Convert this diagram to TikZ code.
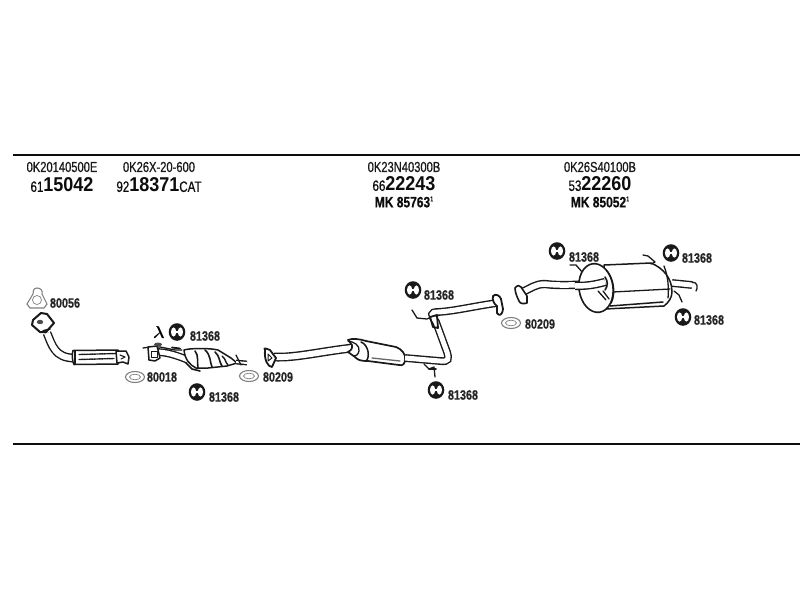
\documentclass[tikz,border=0pt]{standalone}
\usepackage{fontspec}
\setmainfont{Liberation Sans}
\newfontfamily\condf[FakeStretch=.77,FakeBold=.6]{Liberation Sans}
\newfontfamily\condb[FakeStretch=.9]{Liberation Sans}
\newfontfamily\lblf[FakeStretch=.8,FakeBold=.5]{Liberation Sans}
\newcommand{\num}[2]{{\condf\fontsize{15}{15}\selectfont #1}{\condb\fontsize{20}{20}\selectfont\bfseries #2}}
\newcommand{\mk}[1]{{\lblf\fontsize{15}{15}\selectfont\bfseries MK #1}\raisebox{6pt}{\condf\fontsize{7}{7}\selectfont 1}}
\tikzset{
  rule/.style={line width=1.7pt,black!95},
  code/.style={font=\condf\fontsize{14.5}{14.5}\selectfont,inner sep=0pt,text=black!90},
  bignum/.style={inner sep=0pt,text=black!95},
  lbl/.style={font=\lblf\fontsize{13.5}{13.5}\selectfont\bfseries,inner sep=0pt,text=black!85},
  tube/.style={draw=black!90,line width=1.4pt,double=white,double distance=#1,line cap=butt},
  tube/.default=4.5pt,
  line/.style={draw=black!90,line width=1.3pt,line join=round,line cap=round},
  body/.style={draw=black!90,fill=white,line width=1.5pt,line join=round},
  gasket/.style={draw=black!50,fill=white,line width=1.1pt},
  hanger/.pic={
    \fill[black!90] (0,0) ellipse (8.3 and 8.8);
    \fill[white] (-3.4,0) ellipse (2.6 and 4.6);
    \fill[white] (3.4,0) ellipse (2.6 and 4.6);
    \fill[white,rotate=8] (-3,-1) rectangle (3,1);
  },
  oval gasket/.pic={
    \draw[gasket] (0,0) ellipse (9.5 and 5.5);
    \draw[gasket,line width=.7pt] (0,0) ellipse (5.5 and 2.8);
  }
}
\begin{document}
\begin{tikzpicture}[x=1pt,y=-1pt]
\useasboundingbox (0,0) rectangle (800,600);

% rules
\coordinate (tl) at (13,155); \coordinate (tr) at (800,155);
\coordinate (bl) at (13,444); \coordinate (br) at (800,444);
\draw[rule] (tl) -- (tr);
\draw[rule] (bl) -- (br);

% header text
\node[code] (c1) at (62,167) {0K20140500E};
\node[bignum] (n1) at (62,185) {\num{61}{15042}};
\node[code] (c2) at (159,167) {0K26X-20-600};
\node[bignum] (n2) at (159,185) {\num{92}{18371}{\condf\fontsize{15}{15}\selectfont CAT}};
\node[code] (c3) at (404,167) {0K23N40300B};
\node[bignum] (n3) at (404,184) {\num{66}{22243}};
\node[bignum] (m3) at (404,202) {\mk{85763}};
\node[code] (c4) at (600,167) {0K26S40100B};
\node[bignum] (n4) at (600,184) {\num{53}{22260}};
\node[bignum] (m4) at (600,202) {\mk{85052}};

% ---- front pipe
\draw[gasket] (37,288) .. controls (33,288) and (33,292) .. (33,294) -- (27,304) -- (30,308)
   -- (44,308) -- (47,304) -- (42,294) .. controls (43,291) and (41,288) .. (37,288) -- cycle;
\draw[gasket,line width=.7pt] (37,300) circle (4.5);
\draw[tube=6pt] (47,333) .. controls (52,345) and (55,358) .. (74,358);
\draw[body,line width=2pt] (33,320) -- (41,313) -- (47,314) -- (54,323) -- (46,332) -- (40,332) -- (32,325) -- cycle;
\fill[black!70] (40,322) ellipse (3.2 and 2.2);
\draw[line,line width=1.8pt] (43,331) -- (50,329);
\draw[body] (73,350.5) -- (118,350) .. controls (120,351) and (120,363) .. (118,364) -- (74,364.5) .. controls (72,362) and (72,353) .. (73,350.5) -- cycle;
\draw[line,line width=1.8pt] (75,351) -- (75,364);
\draw[line,line width=1.4pt,dash pattern=on 1.6pt off .9pt] (79,354.5) -- (116,353.5);
\draw[line,line width=1.4pt,dash pattern=on 1.6pt off .9pt] (79,359.5) -- (114,358.5);
\draw[body] (116,351) -- (126,351) -- (129,357) -- (128,364) -- (123,362) -- (117,363) -- cycle;
\draw[line,line width=1.1pt] (120,355) -- (125,357) -- (121,359);

% ---- catalytic converter
\draw[tube=5pt] (156,352) .. controls (166,352) and (176,355) .. (188,360);
\draw[line] (143,348) -- (150,347) -- (160,347) -- (175,350) -- (182,350);
\draw[line,line width=1.6pt] (186,363) -- (192,369) -- (200,371);
\draw[body] (148,347) -- (157,346) -- (160,358) -- (155,361) -- (149,360) -- cycle;
\fill[black!70] (158,344.5) ellipse (4 and 2);
\draw[line,line width=.9pt] (151,351) -- (157,351) -- (157,357) -- (151,357) -- cycle;
\draw[body] (184,350) .. controls (190,348) and (210,348) .. (218,350)
   -- (231,358) -- (237,363) -- (227,366) -- (208,368) -- (196,368) .. controls (190,365) and (185,360) .. (184,350) -- cycle;
\draw[line,line width=1.6pt] (195,351) .. controls (199,355) and (197,364) .. (198,368);
\draw[line,line width=1.6pt] (205,350) .. controls (211,355) and (210,363) .. (212,367);
\draw[line,line width=1.6pt] (215,352) .. controls (220,356) and (219,362) .. (222,366);
\draw[line,line width=1.4pt] (222,356) .. controls (226,359) and (225,362) .. (228,365);
\draw[line,line width=1.8pt] (172,347.5) -- (180,348.5);
\draw[tube=2pt] (236,362) -- (247,363);
\draw[line] (236,355) -- (241,365);

% ---- centre pipe
\draw[tube=6pt] (274,357) .. controls (295,358) and (318,352) .. (352,348);
\draw[body,line width=1.8pt] (265,350) .. controls (263,347) and (267,349) .. (270,350) -- (276,358) -- (272,367) .. controls (268,367) and (264,360) .. (265,350) -- cycle;
\draw[line,line width=1pt] (268,354) -- (272,358) -- (268,361) -- cycle;
\draw[body,line width=1.7pt] (348,340) .. controls (352,338) and (360,339) .. (366,341) -- (396,347) .. controls (402,349) and (406,355) .. (405,359)
   .. controls (405,364) and (403,366) .. (399,365) -- (368,361) .. controls (360,361) and (358,360) .. (355,357) -- (348,352) .. controls (352,350) and (353,347) .. (352,345) -- cycle;
\draw[line,line width=1.5pt] (361,342) .. controls (369,345) and (370,358) .. (366,361);
\draw[line] (348,341) .. controls (354,342) and (360,345) .. (359,351) .. controls (358,355) and (356,356) .. (354,356);
\draw[line,draw=black!60] (372,358) -- (400,361);
\draw[tube=5pt] (405,358) -- (440,361) .. controls (449,362) and (449,359) .. (447,352) -- (436,322) .. controls (431,315) and (430,312) .. (438,312) .. controls (455,311) and (475,306) .. (497,303);
\draw[body,line width=1.8pt] (493,296) .. controls (496,293) and (500,296) .. (501,299) -- (503,309) .. controls (502,316) and (499,316) .. (497,313) -- (497,306) .. controls (494,304) and (492,300) .. (493,296) -- cycle;
\draw[line,line width=1.3pt] (412,310) -- (417,318) -- (427,319) -- (431,317);
\draw[line,line width=1.8pt] (430,317) -- (437,315) -- (438,328) -- (433,327) -- cycle;
\draw[line,line width=1.3pt] (424,364) -- (429,369) -- (434,367) -- (435,377);
\draw[line,line width=1.8pt] (429,369) -- (436,369);

% ---- rear pipe and silencer
\draw[tube=5.5pt] (520,293) .. controls (532,288) and (535,284) .. (545,284) .. controls (560,286) and (585,285) .. (606,282);
\draw[body,line width=1.6pt] (515,288) .. controls (517,285) and (520,285) .. (521,287) -- (527,296) -- (527,303) .. controls (524,304) and (520,304) .. (519,301) .. controls (517,297) and (515,292) .. (515,288) -- cycle;
\draw[line] (570,265) -- (576,265) -- (583,273) -- (587,275);
\draw[tube=5pt] (672,283) -- (692,285);
\draw[line] (692,282) .. controls (698,282) and (698,288) .. (696,291);
\draw[body,line width=1.5pt] (604,265) -- (651,263) .. controls (663,268) and (672,278) .. (672,292) .. controls (672,298) and (668,303) .. (664,306) -- (605,309) -- cycle;
\draw[line] (613,292) -- (670,289);
\draw[line,line width=1.5pt] (610,306) -- (663,302);
\draw[line] (664,266) .. controls (668,276) and (669,288) .. (668,298);
\draw[line] (643,255) -- (648,256) -- (655,262) -- (651,264);
\draw[line] (674,291) -- (679,295) -- (682,302);
\draw[body,line width=1.6pt,rotate around={8:(596,288)}] (596,288) ellipse (17 and 24.5);
\draw[line,rotate around={8:(596,288)}] (609,272) .. controls (615,282) and (615,296) .. (609,305);
\draw[tube=5.5pt] (575,286) .. controls (590,286) and (597,284) .. (605,282);
\draw[line,line width=1.6pt] (605,277) .. controls (608,281) and (608,286) .. (605,290);
\draw[line] (598,291) -- (606,300);
\draw[line] (603,291) -- (609,299);

% ---- hangers
\pic at (177,332) {hanger};
\pic at (197,392) {hanger};
\pic at (413,290) {hanger};
\pic at (436,390) {hanger};
\pic at (557,251) {hanger};
\pic at (671,253) {hanger};
\pic at (683,317) {hanger};

% ---- gaskets
\pic at (135,377) {oval gasket};
\pic at (249,376) {oval gasket};
\pic at (511,323) {oval gasket};

% ---- labels
\node[font=\fontsize{18}{18}\selectfont\boldmath,inner sep=0pt] (lam) at (159,332) {$\lambda$};
\node[lbl] (l1) at (65,303) {80056};
\node[lbl] (l2) at (205,336) {81368};
\node[lbl] (l3) at (162,377) {80018};
\node[lbl] (l4) at (224,397) {81368};
\node[lbl] (l5) at (278,377) {80209};
\node[lbl] (l6) at (439,295) {81368};
\node[lbl] (l7) at (463,395) {81368};
\node[lbl] (l8) at (540,324) {80209};
\node[lbl] (l9) at (584,257) {81368};
\node[lbl] (l10) at (697,258) {81368};
\node[lbl] (l11) at (709,320) {81368};
\end{tikzpicture}
\end{document}
